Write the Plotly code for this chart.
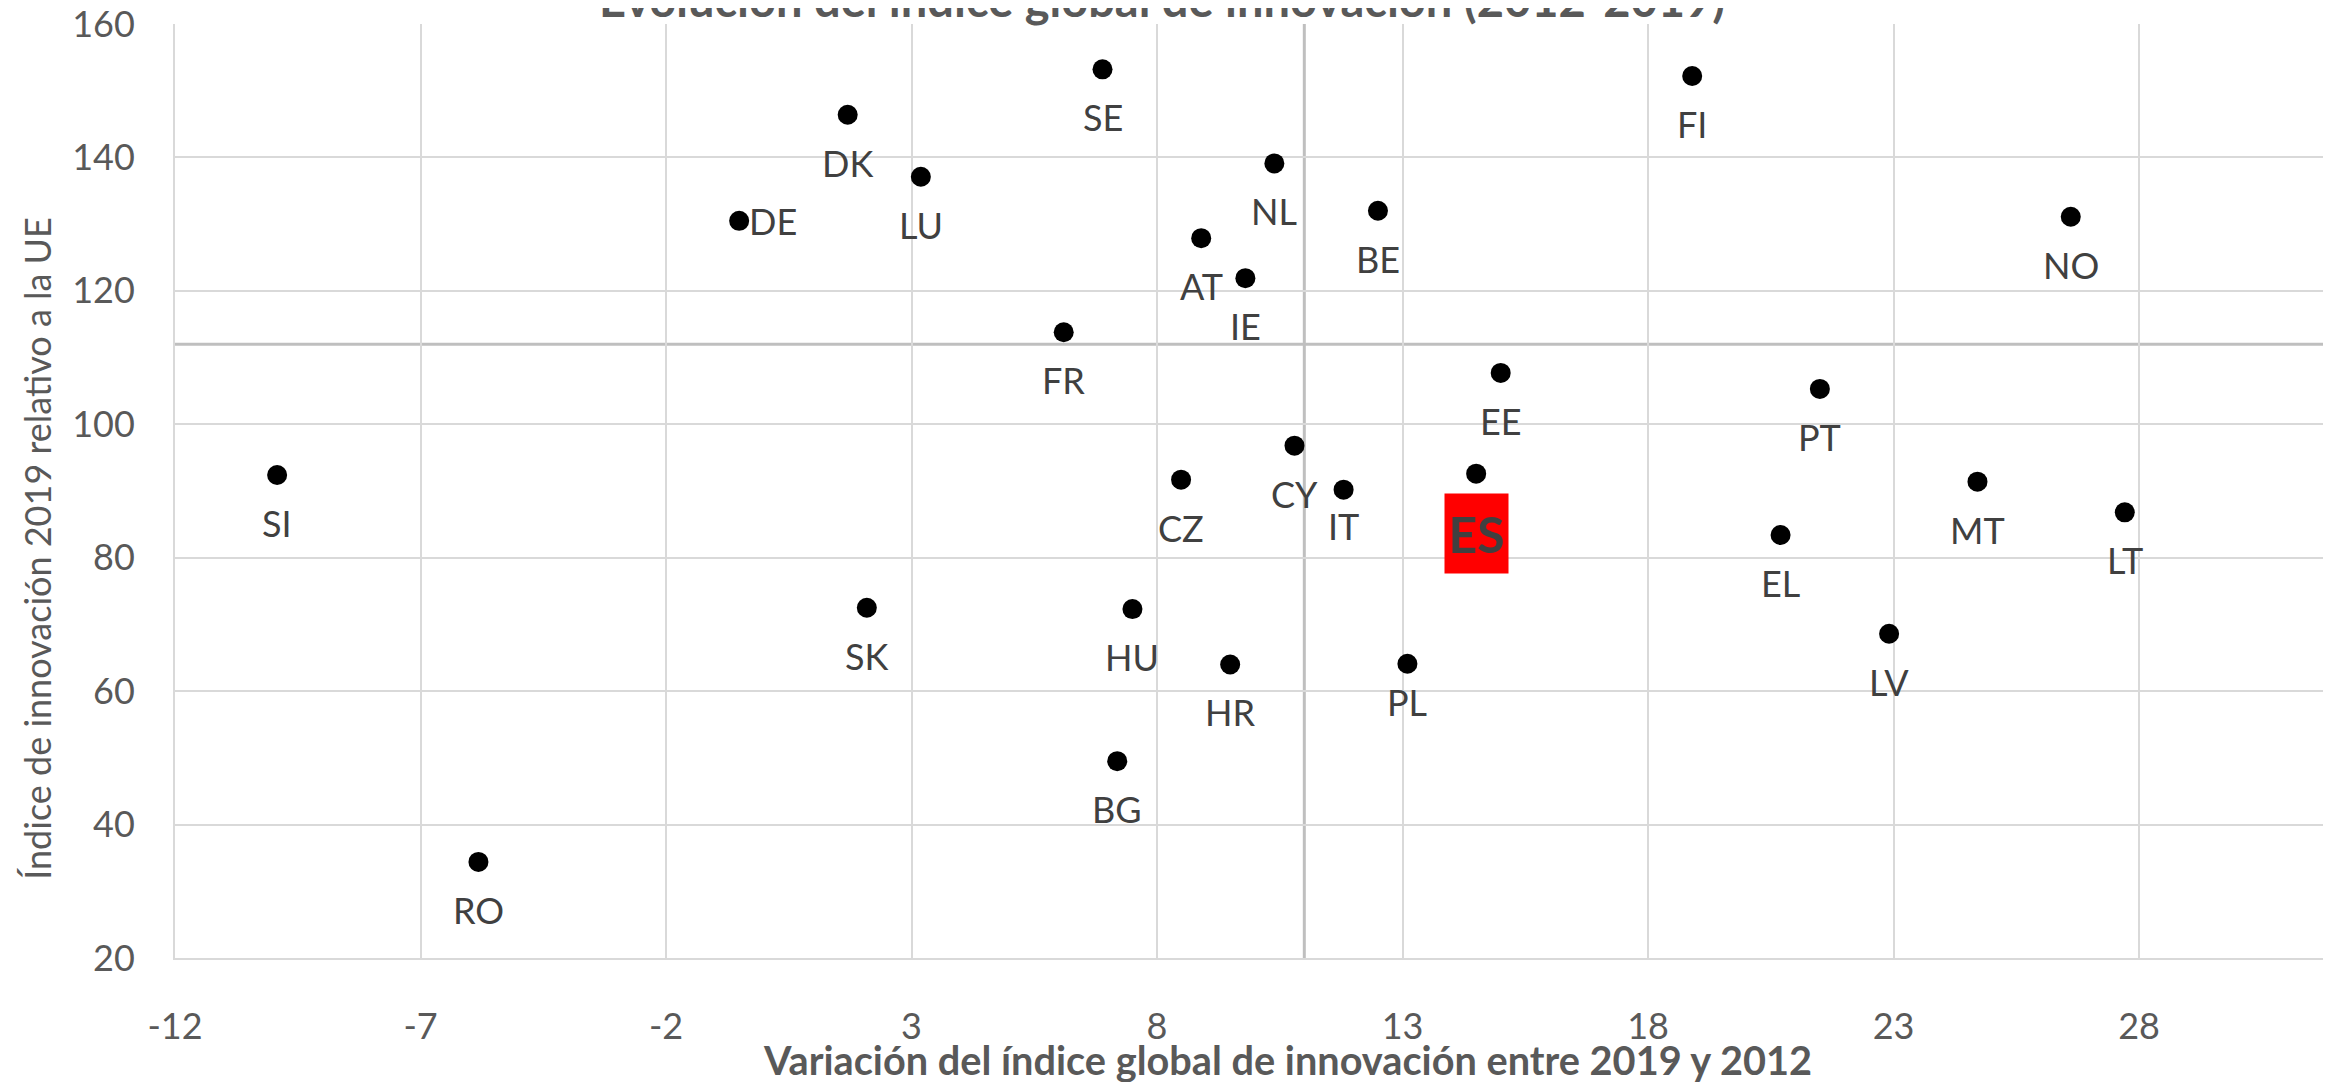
import plotly.graph_objects as go

# ---- data ----
countries = ["SI", "RO", "DE", "DK", "LU", "SK", "SE", "FR", "BG", "HU", "AT", "CZ", "IE", "HR",
             "NL", "CY", "IT", "BE", "PL", "ES", "EE", "FI", "PT", "EL", "LV", "MT", "NO", "LT"]
variation = [-9.92, -5.82, -0.51, 1.70, 3.19, 2.09, 6.89, 6.10, 7.19, 7.50, 8.90, 8.49, 9.80, 9.49,
             10.39, 10.80, 11.80, 12.50, 13.10, 14.50, 15.00, 18.90, 21.50, 20.70, 22.91, 24.71, 26.61, 27.71]
index2019 = [92.4, 34.4, 130.5, 146.4, 137.1, 72.5, 153.2, 113.8, 49.5, 72.3, 127.9, 91.7, 121.9, 64.0,
             139.1, 96.8, 90.2, 132.0, 64.1, 92.6, 107.7, 152.2, 105.3, 83.4, 68.6, 91.4, 131.1, 86.8]
x_ticks = [-12, -7, -2, 3, 8, 13, 18, 23, 28]
y_ticks = [20, 40, 60, 80, 100, 120, 140, 160]
x_cross = 11      # vertical reference line
y_cross = 112     # horizontal reference line
highlight = "ES"

title_text = "Evolución del índice global de innovación (2012-2019)"
x_title = "Variación del índice global de innovación entre 2019 y 2012"
y_title = "Índice de innovación 2019 relativo a la UE"

# ---- style ----
FONT = "Lato"
GRID = "#d9d9d9"
TXT = "#595959"
LBL = "#404040"
label_right = {"DE"}
label_shift = {"IT": -36, "PL": -38}
default_shift = -48

fig = go.Figure()
fig.add_trace(go.Scatter(
    x=variation, y=index2019, mode="markers",
    marker=dict(color="black", size=20, line=dict(width=0)),
    hoverinfo="text", text=countries, showlegend=False,
))

for c, xv, yv in zip(countries, variation, index2019):
    if c == highlight:
        fig.add_annotation(x=xv, y=yv, text="<b>%s</b>" % c, showarrow=False,
                           xanchor="center", yanchor="middle", yshift=-60,
                           width=55, height=71, borderpad=4,
                           font=dict(family=FONT, size=50, color=LBL),
                           bgcolor="#ff0000")
    elif c in label_right:
        fig.add_annotation(x=xv, y=yv, text=c, showarrow=False,
                           xanchor="left", yanchor="middle", xshift=8,
                           font=dict(family=FONT, size=36, color=LBL))
    else:
        fig.add_annotation(x=xv, y=yv, text=c, showarrow=False,
                           xanchor="center", yanchor="middle",
                           yshift=label_shift.get(c, default_shift),
                           font=dict(family=FONT, size=36, color=LBL))

fig.add_shape(type="line", xref="x", yref="paper", x0=x_cross, x1=x_cross, y0=0, y1=1,
              line=dict(color="#bfbfbf", width=3), layer="below")
fig.add_shape(type="line", xref="paper", yref="y", x0=0, x1=1, y0=y_cross, y1=y_cross,
              line=dict(color="#bfbfbf", width=3), layer="below")

# titles
fig.add_annotation(xref="paper", yref="paper", x=0.4578, y=1.027, text="<b>%s</b>" % title_text,
                   showarrow=False, xanchor="center", yanchor="middle",
                   font=dict(family=FONT, size=47, color=TXT))
fig.add_annotation(xref="paper", yref="paper", x=0.5158, y=-0.109, text="<b>%s</b>" % x_title,
                   showarrow=False, xanchor="center", yanchor="middle",
                   font=dict(family=FONT, size=39.7, color=TXT))
fig.add_annotation(xref="paper", yref="paper", x=-0.0641, y=0.439, text=y_title, textangle=-90,
                   showarrow=False, xanchor="center", yanchor="middle",
                   font=dict(family=FONT, size=36, color=TXT))

fig.update_xaxes(range=[-12, 31.91], tickvals=x_ticks, ticktext=[str(v) for v in x_ticks],
                 showgrid=True, gridcolor=GRID, gridwidth=2, zeroline=False,
                 showline=True, linecolor=GRID, linewidth=2, automargin=False,
                 ticks="", ticklabelstandoff=36, ticklabeloverflow="allow",
                 tickfont=dict(family=FONT, size=36, color=TXT))
fig.update_yaxes(range=[20, 160], tickvals=y_ticks, ticktext=[str(v) for v in y_ticks],
                 showgrid=True, gridcolor=GRID, gridwidth=2, zeroline=False,
                 showline=True, linecolor=GRID, linewidth=2, automargin=False,
                 ticks="", ticklabelstandoff=31, ticklabeloverflow="allow",
                 tickfont=dict(family=FONT, size=36, color=TXT))

# page body has an 8px default margin: shift the figure so the plot area lands where it should
fig.update_layout(width=2331, height=1082, margin=dict(l=167, r=8, t=16, b=132),
                  paper_bgcolor="white", plot_bgcolor="white",
                  font=dict(family=FONT, color=TXT))

fig.write_html("out.html")
